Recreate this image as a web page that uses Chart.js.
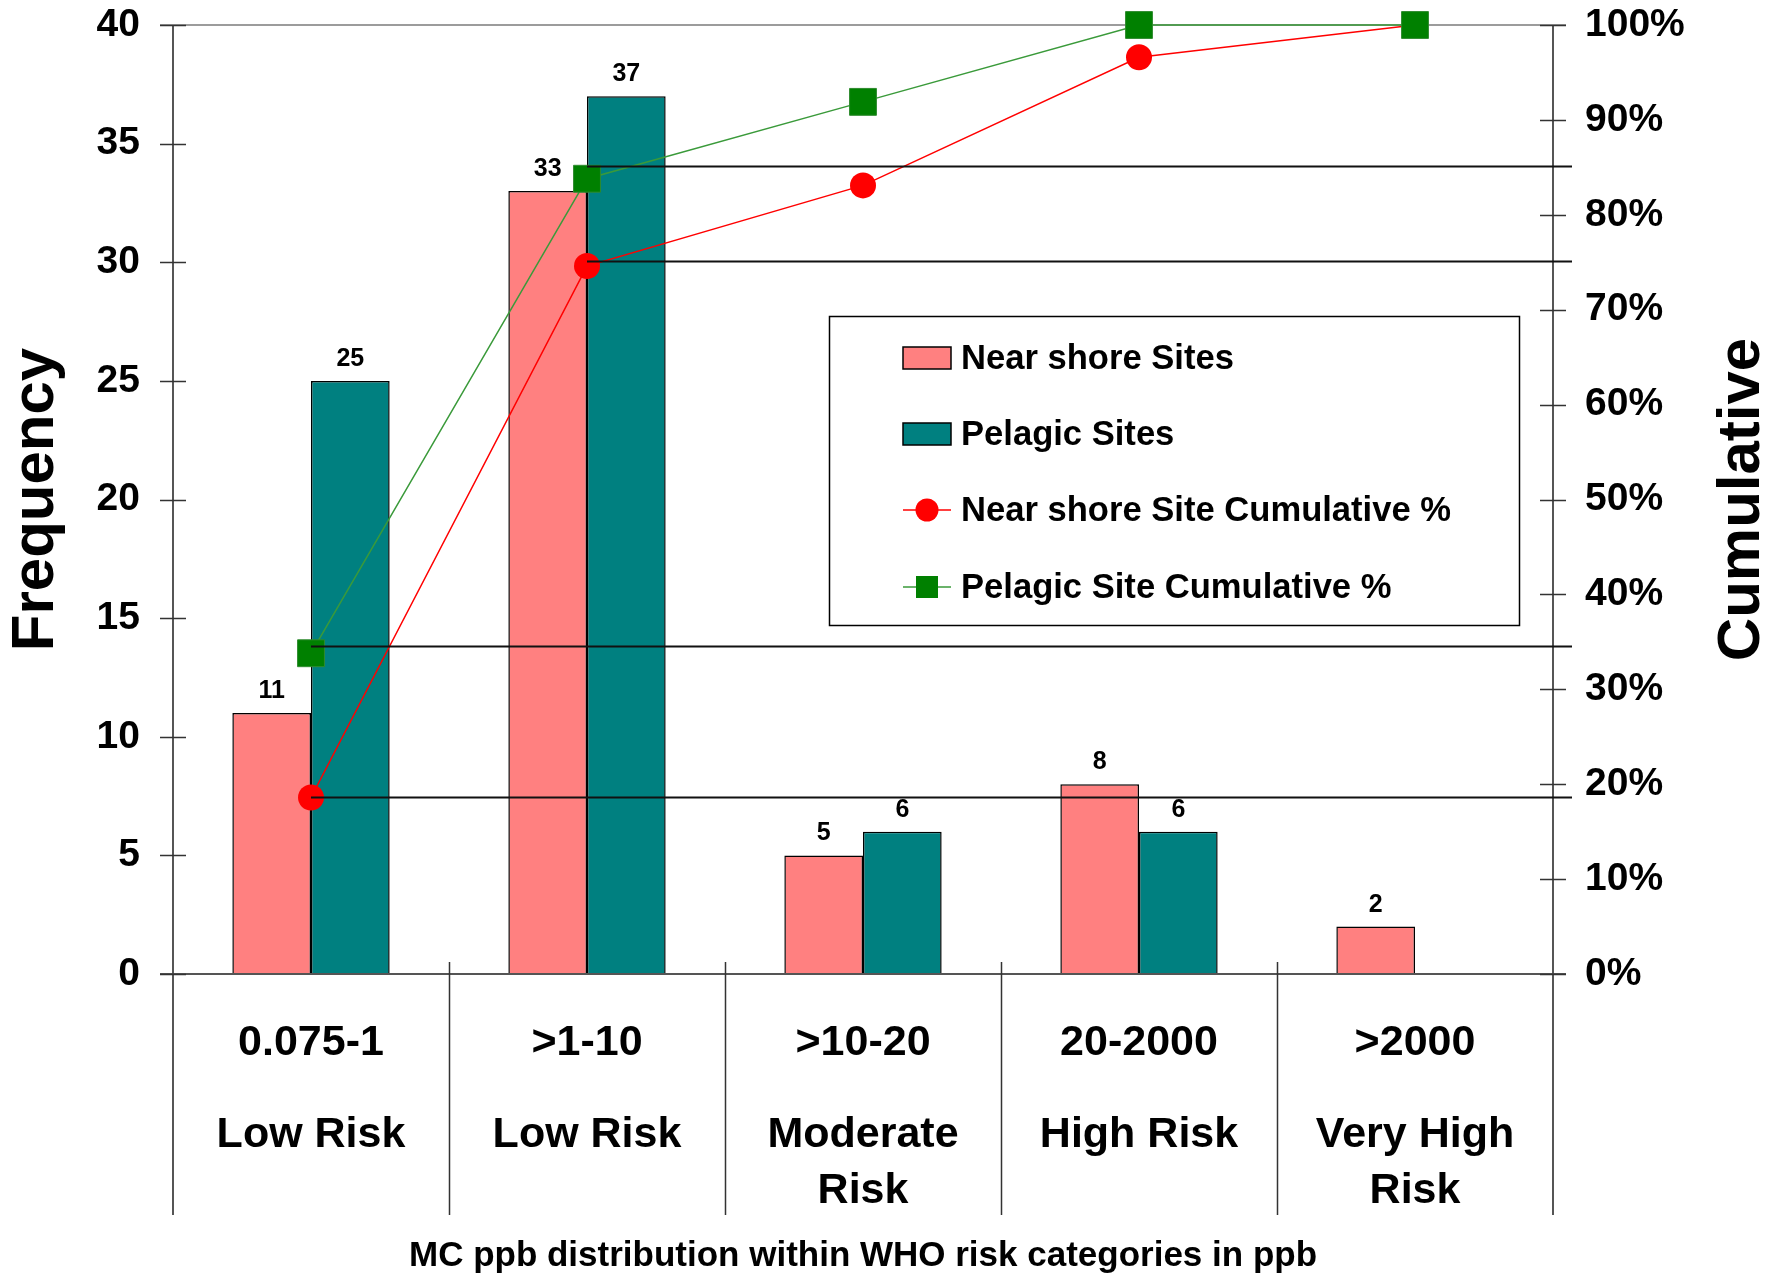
<!DOCTYPE html>
<html>
<head>
<meta charset="utf-8">
<title>MC ppb distribution within WHO risk categories</title>
<script src="https://cdn.jsdelivr.net/npm/chart.js@4.4.1/dist/chart.umd.min.js"></script>
<style>
  html, body { margin: 0; padding: 0; background: #ffffff; }
  #wrap { width: 1782px; height: 1277px; }
</style>
</head>
<body>
<div id="wrap"><canvas id="chart" width="1782" height="1277"></canvas></div>
<script>
// Risk categories (concentration range in ppb, and WHO risk class)
const rangeLabels = ['0.075-1', '>1-10', '>10-20', '20-2000', '>2000'];
const riskLabels = [['Low Risk'], ['Low Risk'], ['Moderate', 'Risk'], ['High Risk'], ['Very High', 'Risk']];

// Number of samples per category
const nearShoreCounts = [11, 33, 5, 8, 2];
const pelagicCounts = [25, 37, 6, 6, 0];

// Cumulative share of samples (%)
const nearShoreCumPct = [18.6, 74.6, 83.1, 96.6, 100];
const pelagicCumPct = [33.8, 83.8, 91.9, 100, 100];

// Axis ranges
const freqMax = 40, freqStep = 5;
const pctMax = 100, pctStep = 10;

// Horizontal guides to the right axis: starting category and level (%)
const guideStartIndex = [0, 0, 1, 1];
const guidePct = [18.7, 34.6, 75.1, 85.1];

const FONT = "'Liberation Sans', Arial, Helvetica, sans-serif";
const rightTitle = 'Cumulative';

const overlay = {
  id: 'overlay',
  beforeDatasetsDraw(chart) {
    const ctx = chart.ctx;
    const y = chart.scales.y;
    const area = chart.chartArea;
    ctx.save();
    // top border line at the axis maximum
    ctx.strokeStyle = '#9c9c9c';
    ctx.lineWidth = 2;
    ctx.beginPath();
    ctx.moveTo(area.left - 13, y.getPixelForValue(freqMax));
    ctx.lineTo(area.right + 13, y.getPixelForValue(freqMax));
    ctx.stroke();
    ctx.restore();
  },
  afterDatasetsDraw(chart) {
    const ctx = chart.ctx;
    const {x, y, y1} = chart.scales;
    const area = chart.chartArea;
    const zeroY = y.getPixelForValue(0);
    const lowest = 1215;
    ctx.save();

    // horizontal axis line
    ctx.strokeStyle = '#555555';
    ctx.lineWidth = 2;
    ctx.beginPath();
    ctx.moveTo(area.left - 13, zeroY);
    ctx.lineTo(area.right + 13, zeroY);
    ctx.stroke();

    // vertical axis lines, extended through the category label band
    ctx.strokeStyle = '#444444';
    ctx.lineWidth = 1.8;
    ctx.beginPath();
    ctx.moveTo(area.left, area.top);
    ctx.lineTo(area.left, lowest);
    ctx.moveTo(area.right, area.top);
    ctx.lineTo(area.right, lowest);
    ctx.stroke();

    // category separators
    const n = x.getLabels().length;
    const catW = (x.right - x.left) / n;
    ctx.strokeStyle = '#333333';
    ctx.lineWidth = 1.5;
    ctx.beginPath();
    for (let k = 1; k < n; k++) {
      const px = Math.round(x.left + k * catW) + 0.5;
      ctx.moveTo(px, zeroY - 12);
      ctx.lineTo(px, lowest);
    }
    ctx.stroke();

    // cross tick marks on both value axes
    ctx.strokeStyle = '#333333';
    ctx.lineWidth = 1.5;
    ctx.beginPath();
    y.ticks.forEach(t => {
      const py = Math.round(y.getPixelForValue(t.value)) + 0.5;
      ctx.moveTo(area.left - 13, py);
      ctx.lineTo(area.left + 13, py);
    });
    y1.ticks.forEach(t => {
      const py = Math.round(y1.getPixelForValue(t.value)) + 0.5;
      ctx.moveTo(area.right - 13, py);
      ctx.lineTo(area.right + 13, py);
    });
    ctx.stroke();

    // horizontal guides to the right axis
    ctx.strokeStyle = '#111111';
    ctx.lineWidth = 2;
    ctx.beginPath();
    guidePct.forEach((pct, i) => {
      const px = x.getPixelForValue(guideStartIndex[i]);
      const py = Math.round(y1.getPixelForValue(pct)) + 0.5;
      ctx.moveTo(px, py);
      ctx.lineTo(area.right + 19, py);
    });
    ctx.stroke();

    // value labels above the bars
    ctx.fillStyle = '#000000';
    ctx.font = `bold 25px ${FONT}`;
    ctx.textAlign = 'center';
    ctx.textBaseline = 'alphabetic';
    [0, 1].forEach(ds => {
      const meta = chart.getDatasetMeta(ds);
      chart.data.datasets[ds].data.forEach((v, i) => {
        if (!v) return;
        const el = meta.data[i];
        ctx.fillText(String(v), el.x, el.y - 15);
      });
    });

    // right axis title, reading bottom to top
    ctx.save();
    ctx.translate(1759, (area.top + area.bottom) / 2);
    ctx.rotate(-Math.PI / 2);
    ctx.font = `bold 60px ${FONT}`;
    ctx.textAlign = 'center';
    ctx.textBaseline = 'alphabetic';
    ctx.fillText(rightTitle, 0, 0);
    ctx.restore();

    // legend box
    const box = {left: 829, top: 316, right: 1519, bottom: 625};
    ctx.fillStyle = '#ffffff';
    ctx.fillRect(box.left, box.top, box.right - box.left, box.bottom - box.top);
    ctx.strokeStyle = '#000000';
    ctx.lineWidth = 1.5;
    ctx.strokeRect(box.left + 0.5, box.top + 0.5, box.right - box.left, box.bottom - box.top);

    const rowY = [358, 434, 510, 587];
    const symL = 903, symR = 951, textX = 961;
    chart.data.datasets.forEach((d, i) => {
      const cy = rowY[i];
      if (d.type === 'bar') {
        ctx.fillStyle = d.backgroundColor;
        ctx.fillRect(symL, cy - 11, symR - symL, 22);
        ctx.strokeStyle = '#000000';
        ctx.lineWidth = 1.5;
        ctx.strokeRect(symL, cy - 11, symR - symL, 22);
      } else {
        ctx.strokeStyle = d.borderColor;
        ctx.lineWidth = 1.5;
        ctx.beginPath();
        ctx.moveTo(symL, cy);
        ctx.lineTo(symR, cy);
        ctx.stroke();
        const mx = (symL + symR) / 2;
        ctx.fillStyle = d.pointBackgroundColor;
        if (d.pointStyle === 'rect') {
          ctx.fillRect(mx - 11, cy - 11, 22, 22);
        } else {
          ctx.beginPath();
          ctx.arc(mx, cy, 11.5, 0, Math.PI * 2);
          ctx.fill();
        }
      }
      ctx.fillStyle = '#000000';
      ctx.font = `bold 34.6px ${FONT}`;
      ctx.textAlign = 'left';
      ctx.textBaseline = 'middle';
      ctx.fillText(d.label, textX, cy + 1);
    });

    ctx.restore();
  }
};

// keep the plot area edges fixed: no extra room for half-height tick labels
const noEdgePadding = s => { s.paddingTop = 0; s.paddingBottom = 0; };

new Chart(document.getElementById('chart'), {
  data: {
    labels: rangeLabels,
    datasets: [
      {
        type: 'bar', label: 'Near shore Sites', data: nearShoreCounts, yAxisID: 'y', xAxisID: 'x',
        backgroundColor: '#FF8080', borderColor: '#000000', borderWidth: 1.5, borderSkipped: 'start',
        categoryPercentage: 0.57, barPercentage: 1.0, order: 2
      },
      {
        type: 'bar', label: 'Pelagic Sites', data: pelagicCounts, yAxisID: 'y', xAxisID: 'x',
        backgroundColor: '#008080', borderColor: '#000000', borderWidth: 1.5, borderSkipped: 'start',
        categoryPercentage: 0.57, barPercentage: 1.0, order: 2
      },
      {
        type: 'line', label: 'Near shore Site Cumulative %', data: nearShoreCumPct, yAxisID: 'y1', xAxisID: 'x',
        borderColor: '#FF0000', borderWidth: 1.5, tension: 0, fill: false, clip: false,
        pointStyle: 'circle', pointRadius: 13, pointHoverRadius: 13,
        pointBackgroundColor: '#FF0000', pointBorderColor: '#FF0000', pointBorderWidth: 0, order: 1
      },
      {
        type: 'line', label: 'Pelagic Site Cumulative %', data: pelagicCumPct, yAxisID: 'y1', xAxisID: 'x',
        borderColor: '#3A9A3A', borderWidth: 1.5, tension: 0, fill: false, clip: false,
        pointStyle: 'rect', pointRadius: 19, pointHoverRadius: 19,
        pointBackgroundColor: '#008000', pointBorderColor: '#2E8B2E', pointBorderWidth: 1, order: 0
      }
    ]
  },
  options: {
    responsive: false,
    animation: false,
    devicePixelRatio: 1,
    layout: { padding: { top: 25, left: 0, right: 0, bottom: 0 } },
    plugins: {
      legend: { display: false },
      tooltip: { enabled: false }
    },
    scales: {
      x: {
        type: 'category', position: 'bottom', offset: true, weight: 0,
        grid: { display: false, drawTicks: false }, border: { display: false },
        ticks: {
          color: '#000000', autoSkip: false, maxRotation: 0, padding: 43,
          font: { family: FONT, size: 43, weight: 'bold', lineHeight: 1.2 }
        },
        afterFit: s => { s.height = 110; }
      },
      x2: {
        type: 'category', position: 'bottom', offset: true, weight: 1,
        labels: riskLabels,
        grid: { display: false, drawTicks: false }, border: { display: false },
        ticks: {
          color: '#000000', autoSkip: false, maxRotation: 0, padding: 23,
          font: { family: FONT, size: 43, weight: 'bold', lineHeight: 1.3 }
        },
        title: {
          display: true, text: 'MC ppb distribution within WHO risk categories in ppb', color: '#000000',
          font: { family: FONT, size: 35, weight: 'bold', lineHeight: 1.2 }, padding: { top: 0, bottom: 0 }
        },
        afterFit: s => { s.height = 193; }
      },
      y: {
        type: 'linear', position: 'left', min: 0, max: freqMax,
        grid: { display: false, drawTicks: false }, border: { display: false },
        ticks: {
          stepSize: freqStep, color: '#000000', padding: 33,
          font: { family: FONT, size: 39, weight: 'bold' }
        },
        title: {
          display: true, text: 'Frequency', color: '#000000',
          font: { family: FONT, size: 60, weight: 'bold', lineHeight: 1.2 }, padding: 0
        },
        afterFit: s => { s.width = 173; noEdgePadding(s); }
      },
      y1: {
        type: 'linear', position: 'right', min: 0, max: pctMax,
        grid: { display: false, drawTicks: false }, border: { display: false },
        ticks: {
          stepSize: pctStep, color: '#000000', padding: 32,
          font: { family: FONT, size: 39, weight: 'bold' },
          callback: v => v + '%'
        },
        afterFit: s => { s.width = 229; noEdgePadding(s); }
      }
    }
  },
  plugins: [overlay]
});
</script>
</body>
</html>
